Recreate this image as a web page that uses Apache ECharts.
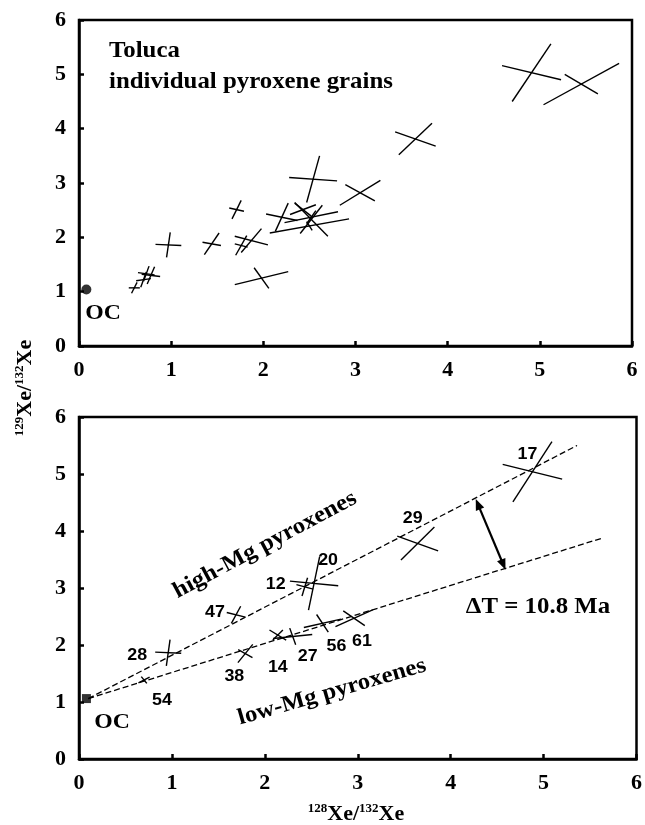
<!DOCTYPE html>
<html>
<head>
<meta charset="utf-8">
<script src="https://cdn.jsdelivr.net/npm/echarts@6/dist/echarts.min.js"></script>
<style>
html,body{margin:0;padding:0;background:#fff;}
#c{width:645px;height:825px;}
</style>
</head>
<body>
<div id="c"></div>
<script>
// ---------- DATA ----------
const xTicks = [0, 1, 2, 3, 4, 5, 6];
const yTicks = [0, 1, 2, 3, 4, 5, 6];

// each grain: [cx, cy, arm1dx, arm1dy, arm2dx, arm2dy]  (half-arms, data units)
const topGrains = [
  [0.60, 1.07, 0.06, 0.00, 0.03, 0.10],
  [0.70, 1.22, 0.08, 0.02, 0.03, 0.14],
  [0.73, 1.33, 0.09, -0.02, 0.03, 0.14],
  [0.78, 1.30, 0.10, -0.02, 0.04, 0.16],
  [0.97, 1.86, 0.14, -0.01, 0.02, 0.23],
  [1.44, 1.88, 0.10, -0.03, 0.08, 0.20],
  [1.71, 2.51, 0.08, -0.03, 0.05, 0.17],
  [1.76, 1.85, 0.07, -0.03, 0.06, 0.18],
  [1.87, 1.94, 0.18, -0.08, 0.11, 0.22],
  [1.98, 1.25, 0.29, 0.12, 0.08, -0.19],
  [2.20, 2.37, 0.17, -0.06, 0.07, 0.26],
  [2.54, 3.07, 0.26, -0.03, 0.07, 0.43],
  [2.43, 2.51, 0.14, 0.09, 0.09, -0.12],
  [2.52, 2.33, 0.18, -0.31, 0.12, 0.26],
  [2.50, 2.21, 0.43, 0.13, 0.03, -0.08],
  [2.52, 2.37, 0.29, 0.10, 0.05, 0.12],
  [3.05, 2.82, 0.22, 0.23, 0.16, -0.15],
  [3.65, 3.81, 0.22, -0.13, 0.18, 0.29],
  [4.91, 5.03, 0.32, -0.13, 0.21, 0.53],
  [5.45, 4.82, 0.41, 0.38, 0.18, -0.18]
];

const bottomIds = ['17', '29', '20', '12', '47', '28', '54', '38', '14', '27', '56', '61'];
const bottomGrains = [
  [4.88, 5.04, 0.32, -0.13, 0.21, 0.53],
  [3.645, 3.78, 0.22, -0.13, 0.18, 0.29],
  [2.53, 3.08, 0.26, -0.04, 0.06, 0.47],
  [2.43, 3.02, 0.09, -0.04, 0.03, 0.16],
  [1.69, 2.53, 0.10, -0.04, 0.05, 0.15],
  [0.96, 1.865, 0.14, -0.01, 0.02, 0.23],
  [0.70, 1.386, 0.06, 0.05, 0.03, -0.06],
  [1.79, 1.85, 0.08, 0.16, 0.077, -0.07],
  [2.14, 2.175, 0.09, -0.088, 0.054, 0.088],
  [2.30, 2.15, 0.21, 0.035, 0.032, -0.146],
  [2.62, 2.38, 0.20, 0.073, 0.063, -0.155],
  [2.96, 2.47, 0.20, 0.146, 0.116, -0.129]
];

const ocTop = [0.08, 1.04];
const ocBottom = [0.08, 1.06];
const highMgLine = [[0.10, 1.06], [5.36, 5.50]];
const lowMgLine = [[0.10, 1.06], [5.62, 3.87]];
const deltaArrow = [[4.27, 4.56], [4.59, 3.32]];

// ---------- STYLE ----------
const serif = '"Liberation Serif", "DejaVu Serif", serif';
const sans = '"Liberation Sans", Arial, sans-serif';
const labelOffsets = {
  '17': [-5, -17], '29': [-5, -25], '20': [14, -23], '12': [-29, -3],
  '47': [-21, -2], '28': [-31, 3], '54': [18, 20], '38': [-11, 23],
  '14': [0, 32], '27': [15, 20], '56': [14, 23], '61': [8, 23]
};

const chart = echarts.init(document.getElementById('c'), null, {renderer: 'canvas'});

function axisCommon(gi, ticks) {
  return {
    gridIndex: gi, type: 'value', min: 0, max: 6, interval: 1,
    axisLine: {show: true, onZero: false, lineStyle: {color: '#000', width: 2.5}},
    axisTick: {show: true, inside: true, length: 5, lineStyle: {color: '#000', width: 2.5}},
    axisLabel: {color: '#000', fontFamily: serif, fontWeight: 'bold', fontSize: 22, margin: 13,
      formatter: v => (ticks.indexOf(v) >= 0 ? String(v) : '')},
    splitLine: {show: false}
  };
}

function crossRender(withLabel) {
  return function (params, api) {
    const cx = api.value(0), cy = api.value(1);
    const a = [api.value(2), api.value(3)], b = [api.value(4), api.value(5)];
    const p1 = api.coord([cx - a[0], cy - a[1]]), p2 = api.coord([cx + a[0], cy + a[1]]);
    const q1 = api.coord([cx - b[0], cy - b[1]]), q2 = api.coord([cx + b[0], cy + b[1]]);
    const st = {stroke: '#000', lineWidth: 1.4};
    const children = [
      {type: 'line', shape: {x1: p1[0], y1: p1[1], x2: p2[0], y2: p2[1]}, style: st},
      {type: 'line', shape: {x1: q1[0], y1: q1[1], x2: q2[0], y2: q2[1]}, style: st}
    ];
    if (withLabel) {
      const id = bottomIds[params.dataIndex];
      const c = api.coord([cx, cy]);
      const off = labelOffsets[id] || [0, 0];
      children.push({type: 'text', x: c[0] + off[0], y: c[1] + off[1], scaleX: 1.05,
        style: {text: id, fill: '#000', font: 'bold 17px ' + sans, align: 'center', verticalAlign: 'middle'}});
    }
    return {type: 'group', children};
  };
}

function arrowRender(params, api) {
  const p = api.coord(deltaArrow[0]), q = api.coord(deltaArrow[1]);
  const dx = q[0] - p[0], dy = q[1] - p[1];
  const L = Math.hypot(dx, dy), ux = dx / L, uy = dy / L;
  const hl = 11, hw = 4.5;
  function head(tip, dirx, diry) {
    const bx = tip[0] - dirx * hl, by = tip[1] - diry * hl;
    return {type: 'polygon', shape: {points: [tip, [bx - diry * hw, by + dirx * hw], [bx + diry * hw, by - dirx * hw]]},
      style: {fill: '#000'}};
  }
  return {type: 'group', children: [
    {type: 'line', shape: {x1: p[0] + ux * 6, y1: p[1] + uy * 6, x2: q[0] - ux * 6, y2: q[1] - uy * 6},
      style: {stroke: '#000', lineWidth: 2.2}},
    head(p, -ux, -uy), head(q, ux, uy)
  ]};
}

function txt(text, x, y, size, extra, align) {
  return Object.assign({type: 'text', x, y, scaleX: 1.08, style: {text, fill: '#000', font: 'bold ' + size + 'px ' + serif,
    align: align || 'center', verticalAlign: 'middle'}}, extra || {});
}

const option = {
  backgroundColor: '#fff',
  animation: false,
  grid: [
    {left: 79, top: 20, width: 553, height: 326, show: true, borderColor: '#000', borderWidth: 2.5, backgroundColor: 'transparent'},
    {left: 79, top: 417, width: 558, height: 342, show: true, borderColor: '#000', borderWidth: 2.5, backgroundColor: 'transparent'}
  ],
  xAxis: [axisCommon(0, xTicks), axisCommon(1, xTicks)],
  yAxis: [axisCommon(0, yTicks), axisCommon(1, yTicks)],
  series: [
    {type: 'custom', xAxisIndex: 0, yAxisIndex: 0, data: topGrains, renderItem: crossRender(false), clip: false, silent: true},
    {type: 'scatter', xAxisIndex: 0, yAxisIndex: 0, data: [ocTop], symbol: 'circle', symbolSize: 10,
      itemStyle: {color: '#000'}, silent: true},
    {type: 'line', xAxisIndex: 1, yAxisIndex: 1, data: highMgLine, showSymbol: false, symbol: 'none',
      lineStyle: {color: '#000', width: 1.3, type: [6, 3]}, silent: true},
    {type: 'line', xAxisIndex: 1, yAxisIndex: 1, data: lowMgLine, showSymbol: false, symbol: 'none',
      lineStyle: {color: '#000', width: 1.3, type: [6, 3]}, silent: true},
    {type: 'custom', xAxisIndex: 1, yAxisIndex: 1, data: bottomGrains, renderItem: crossRender(true), clip: false, silent: true},
    {type: 'custom', xAxisIndex: 1, yAxisIndex: 1, data: [0], renderItem: arrowRender, clip: false, silent: true},
    {type: 'scatter', xAxisIndex: 1, yAxisIndex: 1, data: [ocBottom], symbol: 'rect', symbolSize: 9,
      itemStyle: {color: '#000'}, silent: true}
  ],
  graphic: [
    txt('Toluca', 109, 51, 23, null, 'left'),
    txt('individual pyroxene grains', 109, 82, 23, null, 'left'),
    txt('OC', 103, 313, 22),
    txt('OC', 112, 722, 22),
    txt('\u0394T = 10.8 Ma', 538, 607, 23),
    txt('high-Mg pyroxenes', 265, 545, 23, {rotation: 28 * Math.PI / 180}),
    txt('low-Mg pyroxenes', 332, 692, 23, {rotation: 16 * Math.PI / 180}),
    {type: 'text', x: 25, y: 388, rotation: Math.PI / 2,
      style: {text: '{s|129}{b|Xe/}{s|132}{b|Xe}', fill: '#000', align: 'center', verticalAlign: 'middle',
        rich: {s: {font: 'bold 13px ' + serif, verticalAlign: 'top', lineHeight: 24}, b: {font: 'bold 22px ' + serif, lineHeight: 24}}}},
    {type: 'text', x: 356, y: 814,
      style: {text: '{s|128}{b|Xe/}{s|132}{b|Xe}', fill: '#000', align: 'center', verticalAlign: 'middle',
        rich: {s: {font: 'bold 13px ' + serif, verticalAlign: 'top', lineHeight: 24}, b: {font: 'bold 22px ' + serif, lineHeight: 24}}}}
  ]
};
chart.setOption(option);
</script>
</body>
</html>
